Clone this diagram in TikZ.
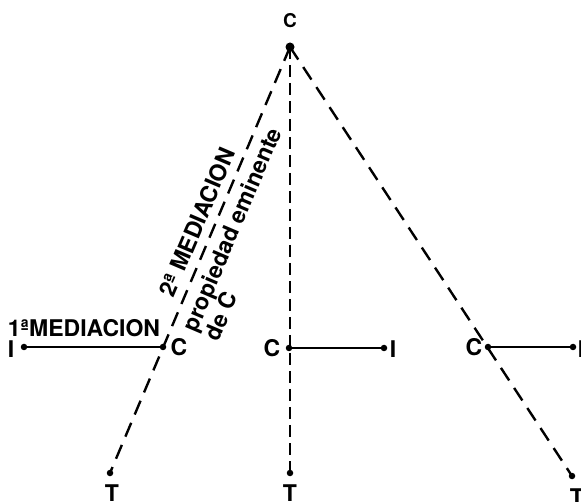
\documentclass[tikz,border=0pt]{standalone}
\usepackage{fontspec}
\setmainfont{TeX Gyre Heros}
\begin{document}
\begin{tikzpicture}[x=1pt,y=-1pt,
  dot/.style={circle,fill=black,inner sep=0pt,minimum size=6.5pt},
  lbl/.style={font=\fontsize{23}{24}\selectfont\bfseries,inner sep=0pt},
  dline/.style={line width=2.4pt,dash pattern=on 15pt off 9pt},
  vline/.style={line width=1.7pt,dash pattern=on 12pt off 6pt},
  sline/.style={line width=2pt}]
\useasboundingbox (0,0) rectangle (581,502);
% points
\node[dot,minimum size=9pt] (apex) at (290,47) {};
\node[dot] (tl) at (110,473) {};
\node[dot] (tm) at (290,473) {};
\node[dot] (tr) at (572,476) {};
\node[dot] (cl) at (163,347) {};
\node[dot] (cm) at (289,348) {};
\node[dot] (cr) at (488,347) {};
\node[dot] (il) at (24,347) {};
\node[dot] (im) at (384,348) {};
\node[dot] (ir) at (573,347) {};
% connectors
\draw[dline] (apex.center) -- (tl.center);
\draw[vline] (apex.center) -- (tm.center);
\draw[dline] (apex.center) -- (tr.center);
\draw[sline] (il.center) -- (cl.center);
\draw[sline] (cm.center) -- (im.center);
\draw[sline] (cr.center) -- (ir.center);
% labels
\node[lbl,anchor=base,font=\fontsize{19}{20}\selectfont\bfseries] (lctop) at (290,28) {C};
\node[lbl,anchor=base] (lcl) at (179,356) {C};
\node[lbl,anchor=base] (lcm) at (272,357) {C};
\node[lbl,anchor=base] (lcr) at (474,356) {C};
\node[lbl,anchor=base] (lil) at (11,358) {I};
\node[lbl,anchor=base] (lim) at (393,358) {I};
\node[lbl,anchor=base] (lir) at (581,358) {I};
\node[lbl,anchor=north] (ltl) at (112,485) {T};
\node[lbl,anchor=north] (ltm) at (290,485) {T};
\node[lbl,anchor=north] (ltr) at (577,489) {T};
\node[lbl,anchor=base] (lmed1) at (84,337) {1ªMEDIACION};
\node[lbl,rotate=66.9] (lmed2) at (197,222) {2ª MEDIACION};
\node[lbl,rotate=66.9,anchor=west] (lprop) at (191,331) {propiedad eminente};
\node[lbl,rotate=66.9,anchor=west] (ldec) at (211,339) {de C};
\end{tikzpicture}
\end{document}
